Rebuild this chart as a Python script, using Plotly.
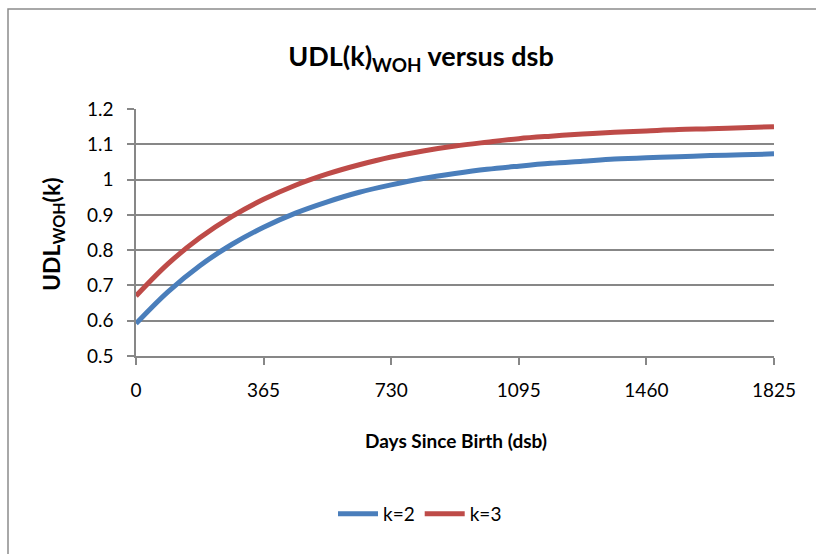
import plotly.graph_objects as go

# Data
days = [0, 91.25, 182.5, 273.75, 365, 456.25, 547.5, 638.75, 730, 821.25, 912.5,
        1003.75, 1095, 1186.25, 1277.5, 1368.75, 1460, 1551.25, 1642.5, 1733.75, 1825]
udl_k2 = [0.592, 0.682, 0.756, 0.816, 0.865, 0.905, 0.937, 0.964, 0.985, 1.003, 1.017,
          1.029, 1.038, 1.046, 1.052, 1.058, 1.062, 1.065, 1.068, 1.070, 1.073]
udl_k3 = [0.670, 0.761, 0.835, 0.895, 0.944, 0.984, 1.016, 1.042, 1.064, 1.081, 1.095,
          1.106, 1.116, 1.123, 1.129, 1.134, 1.138, 1.142, 1.144, 1.147, 1.150]
x_ticks = [0, 365, 730, 1095, 1460, 1825]
y_ticks = [0.5, 0.6, 0.7, 0.8, 0.9, 1.0, 1.1, 1.2]
y_tick_labels = ["0.5", "0.6", "0.7", "0.8", "0.9", "1", "1.1", "1.2"]

FONT = "Lato"
GRID = "#878787"

fig = go.Figure()
fig.add_trace(go.Scatter(x=days, y=udl_k2, mode="lines", name="k=2",
                         line=dict(color="#4A7EBB", width=5, shape="spline")))
fig.add_trace(go.Scatter(x=days, y=udl_k3, mode="lines", name="k=3",
                         line=dict(color="#BE4B48", width=5, shape="spline")))

W, H = 816, 554
L, R, T, B = 136, 774, 109, 356
pw, ph = R - L, B - T

def px_x(p):
    return (p - L) / pw

def px_y(p):
    return (B - p) / ph

fig.update_layout(
    width=W, height=H,
    margin=dict(l=L, r=W - R, t=T, b=H - B, pad=0),
    paper_bgcolor="white", plot_bgcolor="white",
    font=dict(family=FONT, size=19, color="black"),
    showlegend=True,
    legend=dict(orientation="h", x=px_x(420), xanchor="center",
                y=px_y(514), yanchor="middle", font=dict(size=19),
                itemwidth=40, tracegroupgap=0),
    title=dict(text="<b>UDL(k)<sub>WOH</sub> versus dsb</b>",
               x=421 / W, xanchor="center", xref="container",
               y=1 - 57 / H, yanchor="middle", yref="container",
               font=dict(size=27, family=FONT)),
)

fig.update_xaxes(range=[0, 1825], tickvals=x_ticks, ticktext=[str(v) for v in x_ticks],
                 showgrid=False, zeroline=False, showline=True, linecolor=GRID, linewidth=1.5,
                 ticks="outside", ticklen=7, tickcolor=GRID, tickwidth=1.5,
                 ticklabelstandoff=9,
                 tickfont=dict(size=19, family=FONT))
fig.update_yaxes(range=[0.5, 1.2], tickvals=y_ticks, ticktext=y_tick_labels,
                 showgrid=True, gridcolor=GRID, gridwidth=1.5, zeroline=False,
                 showline=True, linecolor=GRID, linewidth=1.5,
                 ticks="outside", ticklen=7, tickcolor=GRID, tickwidth=1.5,
                 ticklabelstandoff=10,
                 tickfont=dict(size=19, family=FONT))

# axis titles
fig.add_annotation(text="<b>Days Since Birth (dsb)</b>", xref="paper", yref="paper",
                   x=px_x(456), y=px_y(440), showarrow=False, xanchor="center", yanchor="middle",
                   font=dict(size=19, family=FONT))
fig.add_annotation(text="<b>UDL<sub>WOH</sub>(k)</b>", xref="paper", yref="paper",
                   x=px_x(52), y=px_y(234), showarrow=False, textangle=-90,
                   xanchor="center", yanchor="middle", font=dict(size=23, family=FONT))

# chart frame
fig.add_shape(type="rect", xref="paper", yref="paper",
              x0=px_x(8), x1=px_x(830), y0=px_y(570), y1=px_y(9),
              line=dict(color="#8C8C8C", width=1.5), fillcolor="rgba(0,0,0,0)", layer="below")

fig.write_html("out.html")
